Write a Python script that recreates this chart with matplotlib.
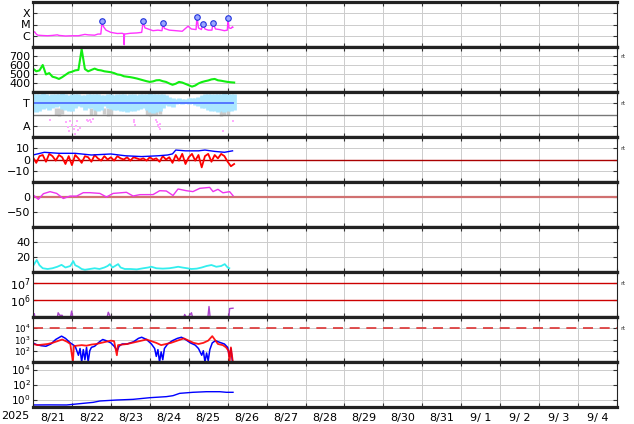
"""Nine stacked space-weather strips, 2025-08-20 .. 09-04. Run: python plot.py -> out.png"""
import numpy as np, pandas as pd, matplotlib
matplotlib.use("Agg")
import matplotlib.pyplot as plt
import matplotlib.dates as mdates
from matplotlib.ticker import FixedLocator, NullLocator, FixedFormatter
from matplotlib.transforms import blended_transform_factory

T0 = pd.Timestamp("2025-08-20 12:00")
def tt(hours): return T0 + pd.to_timedelta(hours, unit="h")

# --- X-ray flux (log10 W/m2) and flare markers ---
xr_h = [0, 1, 2, 3, 6, 9, 12, 15, 16, 20, 24, 28, 32, 34, 38, 40, 41.8, 42.6, 43.5, 45, 48, 52, 55,
        56.0, 56.2, 56.4, 60, 64, 67, 67.9, 69, 71, 74, 77, 79.5, 80.2, 81, 84, 88, 92, 95.6, 97.6,
        100.5, 101.1, 102, 103.8, 104.8, 106, 108, 110.3, 110.95, 112.5, 115, 118, 119.8, 120.2, 120.8, 122, 123, 123.2]
xr_log = [-5.7, -5.65, -5.85, -5.95, -5.98, -6.0, -5.97, -5.92, -5.97, -6.02, -6.0, -6.0, -5.88, -5.92, -5.95, -5.85, -5.85,
          -4.75, -5.2, -5.5, -5.7, -5.8, -5.78, -5.85, -6.8, -5.85, -5.78, -5.75, -5.7, -4.75, -5.3, -5.4, -5.55, -5.5,
          -5.55, -4.9, -5.35, -5.5, -5.55, -5.6, -5.15, -5.4, -5.45, -4.3, -5.3, -5.45, -4.96, -5.4, -5.5, -5.5, -4.9,
          -5.4, -5.45, -5.55, -5.5, -4.45, -5.3, -5.35, -5.2, -5.25]
flare_h = [42.6, 67.9, 80.2, 101.1, 104.8, 110.95, 120.2]
flare_log = [-4.72, -4.72, -4.85, -4.3, -4.96, -4.85, -4.45]

# --- solar wind speed (km/s), 2 h steps ---
sw_h = list(range(0, 126, 2))
sw_v = [560, 530, 540, 600, 495, 510, 470, 460, 445, 465, 490, 515, 525, 540, 545, 775, 555, 530, 545, 560, 545,
        540, 530, 525, 520, 510, 495, 490, 475, 470, 465, 458, 450, 440, 430, 420, 412, 418, 430, 432, 420, 412,
        395, 380, 392, 412, 405, 390, 375, 360, 372, 395, 410, 420, 428, 440, 445, 430, 425, 418, 412, 408, 405]

# --- IMF sector: light-blue band (lo/hi), grey underlay, pink away points ---
sec_h = list(range(0, 126, 2))
sec_lo = [0.14, 0.12, 0.15, 0.25, 0.3, 0.2, 0.28, 0.35, 0.36, 0.25, 0.2, 0.15, 0.14, 0.3, 0.36, 0.32, 0.22, 0.28,
          0.3, 0.2, 0.14, 0.2, 0.36, 0.3, 0.25, 0.2, 0.21, 0.15, 0.14, 0.12, 0.15, 0.14, 0.18, 0.25, 0.29, 0.2, 0.1,
          0.07, 0.1, 0.14, 0.3, 0.44, 0.4, 0.35, 0.45, 0.5, 0.48, 0.5, 0.45, 0.5, 0.44, 0.4, 0.3, 0.29, 0.2, 0.14,
          0.15, 0.12, 0.14, 0.1, 0.14, 0.15, 0.2]
sec_hi = [0.9, 0.93, 0.92, 0.95, 0.9, 0.88, 0.93, 0.9, 0.92, 0.95, 0.9, 0.88, 0.92, 0.93, 0.9, 0.85, 0.88, 0.92,
          0.9, 0.93, 0.9, 0.85, 0.88, 0.92, 0.9, 0.87, 0.9, 0.93, 0.9, 0.88, 0.92, 0.9, 0.87, 0.9, 0.92, 0.93, 0.95,
          0.92, 0.9, 0.93, 0.92, 0.85, 0.8, 0.75, 0.7, 0.72, 0.68, 0.7, 0.72, 0.75, 0.72, 0.8, 0.88, 0.9, 0.92, 0.9,
          0.93, 0.9, 0.92, 0.95, 0.9, 0.92, 0.9]
grey_h = [14, 16, 18, 36, 38, 44, 46, 48, 70, 72, 74, 76, 78, 116, 118, 120]
grey_lo = [0.0, -0.05, 0.02, -0.02, 0.0, 0.02, -0.05, 0.0, -0.03, -0.05, 0.0, -0.02, 0.02, -0.05, 0.0, -0.03]
away_h = [10.5, 20.5, 21.5, 22, 23, 24, 25, 26, 26.5, 27, 28, 29, 33, 34, 35, 36, 37, 62, 62.5, 63,
          76, 76.5, 77, 77.5, 78, 78.5, 117, 123.5]
away_v = [-0.25, -0.35, -0.55, -0.75, -0.3, -0.45, -0.65, -0.85, -0.5, -0.3, -0.7, -0.6, -0.25, -0.3, -0.25,
          -0.35, -0.2, -0.25, -0.35, -0.45, -0.25, -0.35, -0.45, -0.55, -0.65, -0.4, -0.75, -0.3]
pol_h = [0, 123]; pol_v = [0.5, 0.5]

# --- IMF |B| and Bz (nT) ---
bt_h = [0, 7, 16, 26, 36, 48, 57, 67, 77, 83, 86, 88, 94, 102, 106, 112, 118, 123]
bt_v = [4, 6.4, 5.5, 5.5, 4, 4.9, 3.3, 2.6, 3.3, 4, 5, 8.4, 7.7, 7.7, 8.4, 7.2, 6.4, 7.7]
bz_h = list(range(0, 126, 2))
bz_v = [2, -3, 3, 4, -2, 5, 3, -1, 4, 2, -4, 3, -5, 4, 1, -3, 3, 2, -2, 4, 1, -1, 3, 0, 2, -1, 3, 1, 0, 2, -1,
        2, 1, 0, 1, -1, 2, 0, 1, -2, 3, 0, 2, -3, 4, -1, 5, -4, 2, 5, -1, 4, -7, 3, 5, -2, 4, 1, 5, 3, -2, -6, -4]

# --- Dst-like index (nT) ---
dst_h = [0.2, 3.3, 6.4, 10.5, 14.6, 18.7, 22.8, 26.9, 31, 35.1, 41.2, 45.3, 49.4, 57.6, 61.7, 65.8, 74, 78.1,
         82.2, 86.3, 89.4, 94.5, 98.6, 102.8, 108.9, 111, 114, 117.1, 121.2, 123.3]
dst_v = [6.7, -7.8, 11, 17.8, 12, -5, 3, 3, 14.4, 14.4, 12, 0, 12, 15.6, 3.3, 7.8, 8, 21, 20, 5, 26.7, 21, 18,
         28.9, 32, 18, 25.6, 14, 17.8, 4.4]

# --- proton density (/cc) ---
np_h = [0, 2.3, 4, 6, 9, 12, 15, 17.6, 20, 23, 24.8, 26, 28, 30, 32, 35, 38, 41, 44, 46, 47.4, 49, 52.5, 54,
        56.6, 60, 64, 68, 71, 73, 76, 80, 84, 87, 89.5, 92, 95, 97.7, 101, 104, 107, 110, 113, 116, 118.2, 120, 121]
np_v = [8, 16, 9, 5, 4, 5, 7, 9.5, 6, 8, 14.5, 9, 7, 4, 3, 4, 5, 4, 6, 8, 10.5, 6, 10.5, 6, 4, 4, 3.5, 5, 6, 7,
        5, 4.5, 5, 6, 7, 6, 5, 4, 4.5, 6, 8, 9.3, 7, 8, 10.5, 6, 5]

# --- electron flux (log10), thresholds 1e6 / 1e7 ---
el_h = [0, 0.8, 1.6, 14.5, 15.5, 16.5, 18, 19.5, 22.5, 23.8, 25, 45, 46.4, 47.5, 49, 72, 73, 74, 92, 93.5, 95,
        97.7, 99, 107.5, 108.5, 109.5, 120.5, 121.2, 123.3]
el_log = [4.7, 5.2, 4.7, 4.7, 5.25, 5.1, 5.1, 4.7, 4.7, 5.35, 4.7, 4.7, 5.28, 5.05, 4.7, 4.7, 5.05, 4.7, 4.7,
          5.15, 4.9, 5.25, 4.7, 4.7, 5.62, 4.7, 4.7, 5.5, 5.52]

# --- magnetometer activity (log10), blue and red stations ---
mb_h = [0, 2, 5, 8, 11, 14, 17.6, 20, 23, 26, 28, 29, 30, 31, 32, 33, 34, 35, 36, 38, 41, 43, 45, 48, 50, 52, 53,
        55, 58, 62, 65, 67, 70, 73, 75, 76, 77, 78, 79, 80, 81, 83, 86, 89, 91.5, 94, 97, 100, 102, 104, 105, 106,
        107, 108, 109, 110.5, 112.5, 115, 118, 120, 121, 122, 123]
mb_log = [2.7, 2.55, 2.45, 2.4, 2.6, 3.0, 3.3, 3.1, 2.7, 2.4, 1.6, 2.2, 1.0, 2.1, 1.2, 2.3, 1.0, 2.0, 2.3, 2.4,
          2.8, 3.0, 2.9, 2.7, 2.4, 2.0, 2.4, 2.6, 2.6, 2.8, 3.1, 3.2, 3.0, 2.6, 2.2, 1.5, 2.1, 1.0, 1.9, 1.2, 2.2,
          2.6, 2.9, 3.1, 3.2, 3.0, 2.7, 2.5, 2.2, 1.6, 2.0, 1.0, 1.8, 1.1, 2.1, 2.7, 2.9, 2.75, 2.6, 2.3, 1.5, 2.2, 1.0]
mr_h = [0, 3, 6, 9, 12, 15, 18, 21, 23, 24.6, 25.2, 27, 30, 33, 36, 39, 42, 45, 48, 50, 51.7, 52.4, 55, 58, 61,
        64, 67, 70, 73, 76, 79, 82, 85, 88, 91, 93, 96, 99, 102, 105, 108, 110.5, 112, 114, 117, 119, 120.5,
        121.2, 122, 123.2]
mr_log = [2.6, 2.5, 2.55, 2.6, 2.7, 2.85, 3.0, 2.8, 2.6, 1.0, 2.4, 2.45, 2.5, 2.45, 2.55, 2.6, 2.7, 2.8, 2.9,
          2.85, 1.6, 2.5, 2.55, 2.6, 2.7, 2.8, 2.9, 3.0, 2.85, 2.7, 2.5, 2.6, 2.7, 2.85, 3.0, 3.1, 2.9, 2.7, 2.6,
          2.7, 2.9, 3.3, 3.0, 2.6, 2.5, 2.3, 2.0, 1.0, 2.3, 1.0]

# --- cumulative fluence-like series (log10) ---
fl_h = [0.2, 10, 20.7, 31, 37.1, 41.2, 51.4, 61.7, 72, 82.2, 86.3, 90.4, 98.6, 106.9, 115.1, 119.2, 123.3]
fl_log = [-0.73, -0.72, -0.73, -0.51, -0.38, -0.2, -0.07, 0.02, 0.24, 0.38, 0.51, 0.82, 0.96, 1.04, 1.04, 0.96, 0.96]

plt.rcParams.update({"font.family": "DejaVu Sans", "font.size": 8})
fig, axes = plt.subplots(9, 1, figsize=(6.34, 4.24), dpi=100, sharex=True)
fig.subplots_adjust(left=33/634, right=617/634, top=1-2/424, bottom=1-407/424, hspace=0)
GRID = "#cccccc"
day_noon = pd.date_range("2025-08-20 12:00", "2025-09-04 12:00", freq="D")
day_mid = pd.date_range("2025-08-21", "2025-09-04", freq="D")

for ax in axes:
    ax.set_xlim(T0, pd.Timestamp("2025-09-04 12:00"))
    for s in ("top", "bottom"): ax.spines[s].set_linewidth(2.3); ax.spines[s].set_color("#222222")
    for s in ("left", "right"): ax.spines[s].set_linewidth(0.8); ax.spines[s].set_color("#222222")
    ax.xaxis.set_major_locator(FixedLocator(mdates.date2num(day_noon)))
    ax.grid(True, which="major", color=GRID, lw=0.7); ax.set_axisbelow(True)
    ax.tick_params(which="major", direction="in", length=3, top=True, right=True, labelbottom=False,
                   labelsize=8, pad=2, color="#333333")

def rt(ax, y):
    ax.text(1.006, y, "rt", transform=blended_transform_factory(ax.transAxes, ax.transData),
            fontsize=4.5, va="center", ha="left", color="#333333")

# 1 X-ray
ax = axes[0]; ax.set_yscale("log"); ax.set_ylim(1e-7, 1e-3)
ax.plot(tt(xr_h), 10 ** np.array(xr_log), color="#ff33ff", lw=1.0)
ax.scatter(tt(flare_h), 10 ** np.array(flare_log), s=16, facecolor="#9aa8ff", edgecolor="#2233dd", lw=0.8, zorder=5)
ax.yaxis.set_major_locator(FixedLocator([1e-6, 1e-5, 1e-4])); ax.yaxis.set_minor_locator(NullLocator())
ax.yaxis.set_major_formatter(FixedFormatter(["C", "M", "X"]))

# 2 solar wind
ax = axes[1]; ax.set_ylim(300, 800)
ax.plot(tt(sw_h), sw_v, color="#11ee11", lw=1.5)
ax.set_yticks([400, 500, 600, 700]); rt(ax, 700)

# 3 sector
ax = axes[2]; ax.set_ylim(-1, 1)
ax.vlines(tt(grey_h), grey_lo, 0.3, color="#cccccc", lw=2.5)
ax.vlines(tt(sec_h), sec_lo, sec_hi, color="#aae6ff", lw=3.4)
ax.scatter(tt(away_h), away_v, s=4, marker="s", color="#ffaaff", lw=0)
ax.plot(tt(pol_h), pol_v, color="#5577ff", lw=1.4)
ax.axhline(0, color="#777777", lw=1.0)
ax.set_yticks([-0.5, 0.5]); ax.set_yticklabels(["A", "T"]); rt(ax, 0.5)

# 4 IMF
ax = axes[3]; ax.set_ylim(-20, 20)
ax.axhline(0, color="#aa0000", lw=1.0)
ax.plot(tt(bz_h), bz_v, color="#ff0000", lw=1.3)
ax.plot(tt(bt_h), bt_v, color="#0000ff", lw=1.0)
ax.set_yticks([-10, 0, 10]); ax.set_yticklabels(["\u221210", "0", "10"]); rt(ax, 10)

# 5 Dst
ax = axes[4]; ax.set_ylim(-100, 50)
ax.axhline(0, color="#d07070", lw=1.6)
ax.plot(tt(dst_h), dst_v, color="#ee33ee", lw=1.0)
ax.set_yticks([-50, 0]); ax.set_yticklabels(["\u221250", "0"])

# 6 density
ax = axes[5]; ax.set_ylim(0, 60)
ax.plot(tt(np_h), np_v, color="#33eeee", lw=1.3)
ax.set_yticks([20, 40])

# 7 electrons
ax = axes[6]; ax.set_yscale("log"); ax.set_ylim(1e5, 10 ** 7.66)
for lv in (1e6, 1e7): ax.axhline(lv, color="#cc0000", lw=1.0)
ax.plot(tt(el_h), 10 ** np.array(el_log), color="#aa44cc", lw=1.0)
ax.yaxis.set_major_locator(FixedLocator([1e6, 1e7])); ax.yaxis.set_minor_locator(NullLocator()); rt(ax, 1e7)

# 8 magnetometer
ax = axes[7]; ax.set_yscale("log"); ax.set_ylim(10, 1e5)
ax.axhline(1e4, color="#dd3333", lw=1.2, ls=(0, (6, 4)))
ax.plot(tt(mb_h), 10 ** np.array(mb_log), color="#0000ff", lw=1.1)
ax.plot(tt(mr_h), 10 ** np.array(mr_log), color="#ff0000", lw=1.3, alpha=0.9)
ax.yaxis.set_major_locator(FixedLocator([1e2, 1e3, 1e4])); ax.yaxis.set_minor_locator(NullLocator()); rt(ax, 1e4)
ax.tick_params(axis="y", labelsize=6.3, pad=1.5)

# 9 fluence
ax = axes[8]; ax.set_yscale("log"); ax.set_ylim(0.1, 1e5)
ax.plot(tt(fl_h), 10 ** np.array(fl_log), color="#0000ff", lw=1.0)
ax.yaxis.set_major_locator(FixedLocator([1e0, 1e2, 1e4])); ax.yaxis.set_minor_locator(NullLocator())
ax.tick_params(axis="y", labelsize=7.5, pad=1.5)

ax.xaxis.set_minor_locator(FixedLocator(mdates.date2num(day_mid)))
ax.xaxis.set_minor_formatter(FixedFormatter([f"{d.month}/{d.day:2d}" for d in day_mid]))
ax.tick_params(which="minor", length=0, labelbottom=True, labelsize=8, pad=4)
fig.text(15/634, 1 - 416/424, "2025", ha="center", va="center", fontsize=8)

fig.savefig("out.png", dpi=100)
